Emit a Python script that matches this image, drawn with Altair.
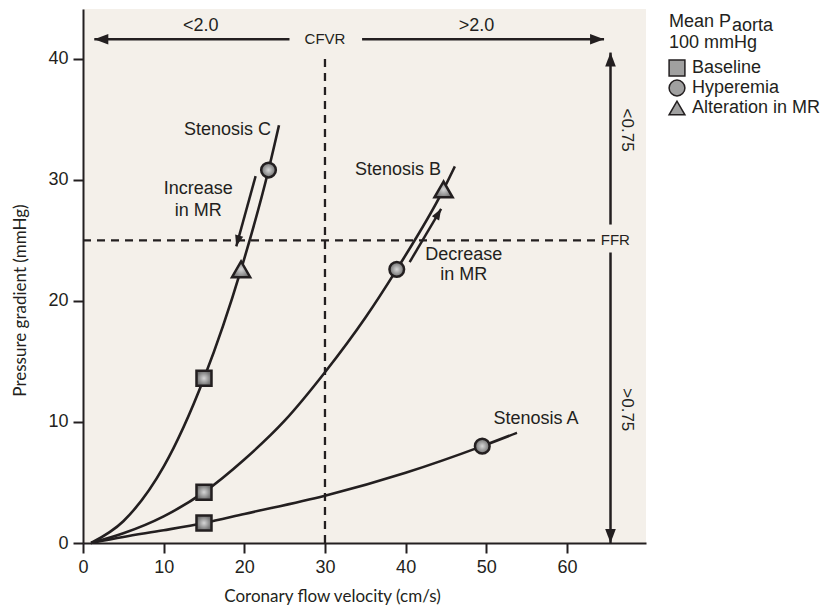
import math
import altair as alt
import pandas as pd

# ---------------- data ----------------
curve_a_x = [1, 5, 10, 15, 20, 30, 40, 49.5, 53.8]
curve_a_y = [0, 0.5, 1.05, 1.65, 2.4, 3.9, 5.8, 8.0, 9.1]
curve_b_x = [1, 5, 10, 15, 20, 25, 30, 35, 38.9, 44.7, 46.1]
curve_b_y = [0, 0.8, 2.2, 4.2, 6.9, 10.1, 14.1, 18.6, 22.6, 29.2, 31.1]
curve_c_x = [1, 5, 10, 15, 19.6, 23, 24.3]
curve_c_y = [0, 1.8, 6.3, 13.6, 22.6, 30.8, 34.5]

phases = ["Baseline", "Hyperemia", "Alteration in MR"]
marker_stenosis = ["A", "B", "C", "A", "B", "C", "B", "C"]
marker_phase = ["Baseline", "Baseline", "Baseline", "Hyperemia", "Hyperemia",
                "Hyperemia", "Alteration in MR", "Alteration in MR"]
marker_x = [15, 15, 15, 49.5, 38.9, 23, 44.7, 19.6]
marker_y = [1.65, 4.2, 13.6, 8.0, 22.6, 30.8, 29.2, 22.6]

# threshold lines (FFR 25 mmHg, CFVR at 30 cm/s)
dash_x1 = [0, 30]
dash_y1 = [25, 0]
dash_x2 = [63.7, 30]
dash_y2 = [25, 40.3]

# arrows: start -> tip (tip carries the head)
arrow_x1 = [25.6, 34.6, 65.4, 65.4, 21.4, 40.5]
arrow_y1 = [41.6, 41.6, 26.3, 24.0, 30.3, 23.2]
arrow_x2 = [1.4, 64.6, 65.4, 65.4, 19.0, 44.4]
arrow_y2 = [41.6, 41.6, 40.5, 0.0, 24.5, 27.6]
arrow_big = [True, True, True, True, False, False]

# annotation texts
right_text = ["Stenosis C", "Stenosis B"]
right_x = [23.3, 44.4]
right_y = [34.1, 30.8]
center_text = ["Increase", "in MR", "Decrease", "in MR", "<2.0", ">2.0"]
center_x = [14.3, 14.3, 47.2, 47.2, 14.6, 48.8]
center_y = [29.2, 27.4, 23.8, 22.1, 42.7, 42.7]
left_text = ["Stenosis A"]
left_x = [50.9]
left_y = [10.25]
small_text = ["CFVR", "FFR"]
small_x = [30, 66.0]
small_y = [41.6, 25.0]
rot_text = ["<0.75", ">0.75"]
rot_x = [67.4, 67.4]
rot_y = [34.1, 11.0]

# ---------------- styling ----------------
W, H = 563, 534
XMAX, YMAX = 69.8, 44.1
INK = "#231f20"
BG = "#f4f0ea"
FONT = "Liberation Sans"
PX_X = W / XMAX
PX_Y = H / YMAX

xs = alt.Scale(domain=[0, XMAX], nice=False, zero=False)
ys = alt.Scale(domain=[0, YMAX], nice=False, zero=False)

xaxis = alt.Axis(values=[0, 10, 20, 30, 40, 50, 60], title="Coronary flow velocity (cm/s)",
                 grid=False, domainColor=INK, domainWidth=2, tickColor=INK, tickWidth=2,
                 tickSize=10, labelFont=FONT, labelFontSize=18, labelColor=INK,
                 labelPadding=5, labelFlush=False, titleFont="Lato", titleFontSize=17,
                 titleFontWeight="normal", titleColor=INK, titleX=249, titleY=53,
                 titleAlign="center", titleBaseline="middle")
yaxis = alt.Axis(values=[0, 10, 20, 30, 40], title="Pressure gradient (mmHg)",
                 grid=False, domainColor=INK, domainWidth=2, tickColor=INK, tickWidth=2,
                 tickSize=10, labelFont=FONT, labelFontSize=18, labelColor=INK,
                 labelPadding=5, labelFlush=False, titleFont="Lato", titleFontSize=17,
                 titleFontWeight="normal", titleColor=INK, titleX=-63, titleY=291,
                 titleAngle=270, titleAlign="center", titleBaseline="middle")


def X(f="x"):
    return alt.X(f"{f}:Q", scale=xs, axis=xaxis)


def Y(f="y"):
    return alt.Y(f"{f}:Q", scale=ys, axis=yaxis)


# ---------------- tables ----------------
curves = pd.DataFrame(
    [{"curve": "A", "x": a, "y": b} for a, b in zip(curve_a_x, curve_a_y)]
    + [{"curve": "B", "x": a, "y": b} for a, b in zip(curve_b_x, curve_b_y)]
    + [{"curve": "C", "x": a, "y": b} for a, b in zip(curve_c_x, curve_c_y)]
)
markers = pd.DataFrame({"stenosis": marker_stenosis, "phase": marker_phase,
                        "x": marker_x, "y": marker_y})
dashes = pd.DataFrame({"x": dash_x1, "y": dash_y1, "x2": dash_x2, "y2": dash_y2})
arrows = pd.DataFrame({"x": arrow_x1, "y": arrow_y1, "x2": arrow_x2, "y2": arrow_y2})


def head_angle(x1, y1, x2, y2):
    dx = (x2 - x1) * PX_X
    dy = -(y2 - y1) * PX_Y
    return math.degrees(math.atan2(dx, -dy)) % 360


heads = pd.DataFrame({
    "x": arrow_x2, "y": arrow_y2,
    "ang": [head_angle(a, b, c, d) for a, b, c, d in zip(arrow_x1, arrow_y1, arrow_x2, arrow_y2)],
    "sz": [784 if big else 484 for big in arrow_big],
})

HEAD = "M0,0L-0.38,1L0.38,1Z"

grad = alt.RadialGradient(
    gradient="radial",
    stops=[alt.GradientStop(color="#d8d8d8", offset=0),
           alt.GradientStop(color="#6f6f6f", offset=1)],
    x1=0.5, y1=0.5, r1=0, x2=0.5, y2=0.5, r2=0.5,
)

shape_scale = alt.Scale(domain=phases, range=["square", "circle", "triangle-up"])
legend = alt.Legend(
    orient="none", legendX=585, legendY=50, title=None,
    labelFont=FONT, labelFontSize=18, labelColor=INK,
    labelOffset=6, rowPadding=-5, symbolSize=250, symbolOpacity=1,
)

# ---------------- layers ----------------
dash_layer = alt.Chart(dashes).mark_rule(color=INK, strokeWidth=2.3, strokeDash=[8, 6]).encode(
    x=X(), y=Y(), x2="x2:Q", y2="y2:Q")

curve_layer = alt.Chart(curves).mark_line(color=INK, strokeWidth=2.6, interpolate="monotone").encode(
    x=X(), y=Y(), detail="curve:N", order="x:Q")

arrow_layer = alt.Chart(arrows).mark_rule(color=INK, strokeWidth=2.5).encode(
    x=X(), y=Y(), x2="x2:Q", y2="y2:Q")

head_layer = alt.Chart(heads).mark_point(shape=HEAD, filled=True, color=INK, opacity=1,
                                         strokeWidth=0).encode(
    x=X(), y=Y(), angle=alt.Angle("ang:Q", scale=None), size=alt.Size("sz:Q", scale=None))

# plain grey outlined markers (carry the legend), drawn beneath the shaded ones
marker_legend_layer = alt.Chart(markers).mark_point(
    filled=False, fill="#a0a0a0", stroke=INK, strokeWidth=2.5, opacity=1, size=60).encode(
    x=X(), y=Y(), shape=alt.Shape("phase:N", scale=shape_scale, legend=legend))

# shaded markers, one layer per phase
marker_shapes = {"Baseline": ("square", 225), "Hyperemia": ("circle", 215),
                 "Alteration in MR": ("triangle-up", 330)}
shaded_layers = []
for ph in phases:
    shp, sz = marker_shapes[ph]
    shaded_layers.append(
        alt.Chart(markers).transform_filter(alt.datum.phase == ph).mark_point(
            shape=shp, size=sz, filled=True, fill=grad, stroke=INK, strokeWidth=2.5,
            opacity=1, fillOpacity=1).encode(x=X(), y=Y())
    )


def text_layer(texts, xv, yv, align, size=18, angle=None):
    df = pd.DataFrame({"t": texts, "x": xv, "y": yv})
    kw = dict(align=align, baseline="middle", font=FONT, fontSize=size, color=INK)
    if angle is not None:
        kw["angle"] = angle
    return alt.Chart(df).mark_text(**kw).encode(x=X(), y=Y(), text="t:N")


t_right = text_layer(right_text, right_x, right_y, "right")
t_center = text_layer(center_text, center_x, center_y, "center")
t_left = text_layer(left_text, left_x, left_y, "left")
t_small = text_layer(small_text, small_x, small_y, "center", size=15)
t_rot = text_layer(rot_text, rot_x, rot_y, "center", size=17, angle=90)

hdr = pd.DataFrame({"t": ["Mean P"]})
hdr_a = pd.DataFrame({"t": ["aorta"]})
hdr_b = pd.DataFrame({"t": ["100 mmHg"]})
h1 = alt.Chart(hdr).mark_text(align="left", baseline="alphabetic", font=FONT, fontSize=18,
                              color=INK).encode(x=alt.value(586), y=alt.value(18), text="t:N")
h2 = alt.Chart(hdr_a).mark_text(align="left", baseline="alphabetic", font=FONT, fontSize=18,
                                color=INK).encode(x=alt.value(649), y=alt.value(22), text="t:N")
h3 = alt.Chart(hdr_b).mark_text(align="left", baseline="alphabetic", font=FONT, fontSize=18,
                                color=INK).encode(x=alt.value(586), y=alt.value(39), text="t:N")

chart = alt.layer(
    dash_layer, curve_layer, arrow_layer, head_layer, marker_legend_layer, *shaded_layers,
    t_right, t_center, t_left, t_small, t_rot, h1, h2, h3,
).properties(
    width=W, height=H,
    autosize=alt.AutoSizeParams(type="none"),
    padding={"left": 75, "top": 1, "right": 178, "bottom": 62},
    background="white",
).configure_view(fill=BG, stroke=None)

chart.save("out.html", embed_options={"renderer": "svg", "actions": False})
